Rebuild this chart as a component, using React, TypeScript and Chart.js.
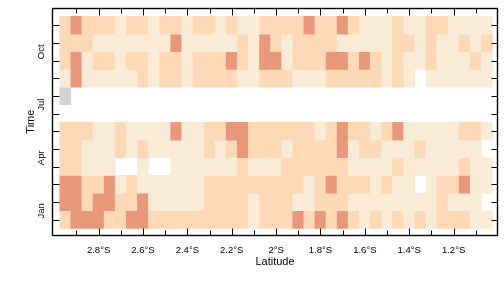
import React, { useEffect, useRef } from 'react';
import { Chart, registerables } from 'chart.js';

Chart.register(...registerables);

// Latitude cell centres (degrees, negative = south)
const LATS = [
  -2.95, -2.9, -2.85, -2.8, -2.75, -2.7, -2.65, -2.6, -2.55, -2.5,
  -2.45, -2.4, -2.35, -2.3, -2.25, -2.2, -2.15, -2.1, -2.05, -2.0,
  -1.95, -1.9, -1.85, -1.8, -1.75, -1.7, -1.65, -1.6, -1.55, -1.5,
  -1.45, -1.4, -1.35, -1.3, -1.25, -1.2, -1.15, -1.1, -1.05,
];

// Month positions on the time axis (0 = Jan ... 11 = Dec)
const MONTH_POS = [0, 1, 2, 3, 4, 5, 6, 7, 8, 9, 10, 11];

// Level per cell: 0 = grey, 1 = light, 2 = medium, 3 = high, null = no data
const JAN = [2,3,3,3,2,2,3,3,2,2,2,2,2,2,2,2,2,1,2,2,2,3,2,3,2,3,2,1,2,1,2,1,2,1,2,2,2,1,1];
const FEB = [3,3,2,3,3,2,2,3,1,1,1,1,1,2,2,2,2,1,2,2,2,1,1,2,2,2,1,1,1,1,1,1,1,1,2,1,1,1,null];
const MAR = [3,3,2,2,3,1,2,1,1,1,1,1,1,2,2,2,2,2,2,2,2,2,1,2,3,2,2,2,1,2,1,1,null,1,2,2,3,1,1];
const APR = [2,2,1,1,1,null,null,1,null,null,1,1,1,1,1,1,2,1,1,1,2,2,2,2,2,2,1,1,1,1,2,1,1,1,1,1,2,1,1];
const MAY = [2,2,1,1,1,2,1,2,1,1,1,1,1,2,1,2,3,2,2,2,1,2,2,2,2,3,1,2,2,1,1,1,2,1,1,1,1,1,null];
const JUN = [2,2,2,1,1,2,1,1,1,1,3,1,1,2,2,3,3,2,2,2,2,2,2,1,2,3,2,2,1,2,3,1,1,1,1,1,2,2,1];
const JUL: (number | null)[] = [];
const AUG = [0];
const SEP = [1,3,1,1,1,1,1,2,1,2,2,1,2,2,2,2,1,1,2,2,2,1,1,1,2,2,2,2,2,1,2,1,null,1,1,1,1,1,1];
const OCT = [2,3,1,2,2,1,2,2,1,2,2,1,2,2,2,3,2,1,3,3,1,2,2,2,3,3,2,3,2,1,2,1,1,2,1,1,1,2,1];
const NOV = [2,2,2,1,1,1,1,1,1,1,3,1,1,1,1,1,2,1,3,2,1,2,2,2,2,1,1,1,1,1,2,2,1,2,1,1,2,1,2];
const DEC = [2,3,2,2,2,1,2,2,1,2,2,1,2,2,1,2,1,1,2,2,2,2,3,2,2,3,2,1,1,1,2,1,1,2,2,1,1,1,1];

const ROWS = [JAN, FEB, MAR, APR, MAY, JUN, JUL, AUG, SEP, OCT, NOV, DEC];

const LEVEL_COLORS = ['#d3d3d3', '#faebd7', '#fdd9b7', '#e9987c'];

// Axis ticks
const LAT_TICKS = [-2.9, -2.8, -2.7, -2.6, -2.5, -2.4, -2.3, -2.2, -2.1, -2.0, -1.9, -1.8, -1.7, -1.6, -1.5, -1.4, -1.3, -1.2, -1.1];
const LAT_TICK_LABELS = ['', '2.8°S', '', '2.6°S', '', '2.4°S', '', '2.2°S', '', '2°S', '', '1.8°S', '', '1.6°S', '', '1.4°S', '', '1.2°S', ''];
const MONTH_TICKS = [0, 1, 2, 3, 4, 5, 6, 7, 8, 9, 10, 11];
const MONTH_LABEL_POS = [0.5, 3.5, 6.5, 9.5];
const MONTH_LABELS = ['Jan', 'Apr', 'Jul', 'Oct'];

const FONT = "'Liberation Sans', Arial, Helvetica, sans-serif";

const frameTicks = {
  id: 'frameTicks',
  afterDatasetsDraw(chart: any) {
    const { ctx, chartArea: a, scales } = chart;
    const x = scales.x;
    const y = scales.y;
    const L = Math.round(a.left) + 0.5;
    const R = Math.round(a.right) - 0.5;
    const T = Math.round(a.top) + 0.5;
    const B = Math.round(a.bottom) + 0.5;
    ctx.save();
    ctx.strokeStyle = '#000';
    ctx.lineWidth = 1;
    ctx.beginPath();
    LAT_TICKS.forEach((v, i) => {
      const px = Math.round(x.getPixelForValue(v)) + 0.5;
      const len = LAT_TICK_LABELS[i] ? 7 : 5;
      ctx.moveTo(px, B);
      ctx.lineTo(px, B - len);
      ctx.moveTo(px, T);
      ctx.lineTo(px, T + len);
    });
    MONTH_TICKS.forEach((v) => {
      const py = Math.round(y.getPixelForValue(v)) + 0.5;
      ctx.moveTo(L, py);
      ctx.lineTo(L + 7, py);
      ctx.moveTo(R, py);
      ctx.lineTo(R - 6, py);
    });
    ctx.stroke();
    ctx.lineWidth = 1.4;
    ctx.strokeRect(L, T, R - L, B - T);
    ctx.restore();
  },
};

export default function App() {
  const ref = useRef<HTMLCanvasElement | null>(null);

  useEffect(() => {
    if (!ref.current) return;
    const half = (LATS[1] - LATS[0]) / 2;
    const cells: any[] = [];
    ROWS.forEach((row, m) => {
      row.forEach((v, i) => {
        if (v === null || v === undefined) return;
        cells.push({ x: [LATS[i] - half, LATS[i] + half], y: MONTH_POS[m], v });
      });
    });

    const chart = new Chart(ref.current, {
      type: 'bar',
      data: {
        datasets: [
          {
            data: cells,
            backgroundColor: (c: any) => LEVEL_COLORS[c.raw ? c.raw.v : 1],
            borderWidth: 0,
            barPercentage: 1,
            categoryPercentage: 1,
          } as any,
        ],
      },
      options: {
        indexAxis: 'y',
        responsive: false,
        animation: false,
        events: [],
        layout: { padding: { top: 4, right: 6, bottom: 0, left: 0 } },
        plugins: { legend: { display: false }, tooltip: { enabled: false } },
        scales: {
          x: {
            type: 'linear',
            min: -3.01,
            max: -1.0,
            offset: false,
            afterBuildTicks: (s: any) => {
              s.ticks = LAT_TICKS.map((v) => ({ value: v }));
            },
            afterFit: (s: any) => {
              s.height = 53;
            },
            grid: { display: false, drawTicks: false },
            border: { display: false },
            ticks: {
              autoSkip: false,
              maxRotation: 0,
              minRotation: 0,
              padding: 10,
              color: '#000',
              font: { family: FONT, size: 9.5 },
              callback: (_v: any, i: number) => LAT_TICK_LABELS[i],
            },
            title: {
              display: true,
              text: 'Latitude',
              color: '#000',
              font: { family: FONT, size: 11 },
              padding: { top: 0, bottom: 19.5 },
            },
          },
          y: {
            type: 'linear',
            min: -0.872,
            max: 11.961,
            offset: false,
            afterBuildTicks: (s: any) => {
              s.ticks = MONTH_LABEL_POS.map((v) => ({ value: v }));
            },
            afterFit: (s: any) => {
              s.width = 52;
            },
            grid: { display: false, drawTicks: false },
            border: { display: false },
            ticks: {
              autoSkip: false,
              minRotation: 90,
              maxRotation: 90,
              crossAlign: 'center',
              padding: 2.6,
              color: '#000',
              font: { family: FONT, size: 9.5 },
              callback: (_v: any, i: number) => MONTH_LABELS[i],
            },
            title: {
              display: true,
              text: 'Time',
              color: '#000',
              font: { family: FONT, size: 11 },
              padding: { top: 24, bottom: 0 },
            },
          },
        },
      } as any,
      plugins: [frameTicks],
    });
    return () => chart.destroy();
  }, []);

  return (
    <div style={{ position: 'fixed', left: 0, top: 0, width: 504, height: 288, background: '#fff' }}>
      <canvas ref={ref} width={504} height={288} style={{ width: 504, height: 288, display: 'block' }} />
    </div>
  );
}
